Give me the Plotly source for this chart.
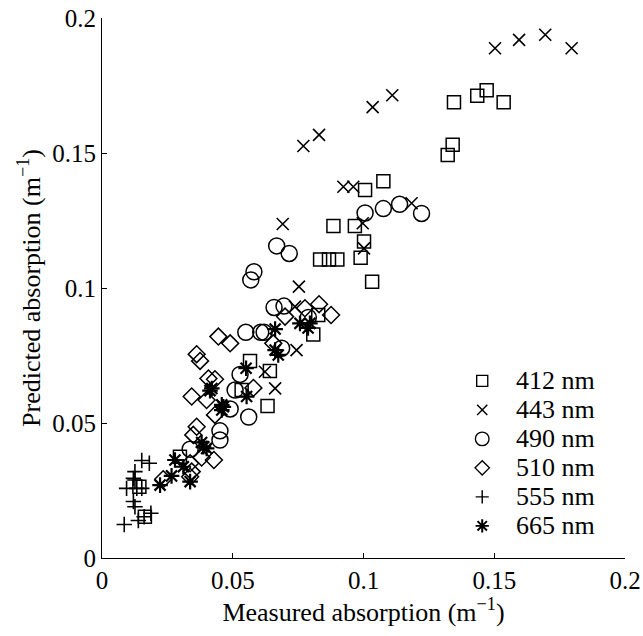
import plotly.graph_objects as go

# Measured vs predicted absorption (m^-1) at six wavelengths
x_412 = [0.1346, 0.1435, 0.1471, 0.1536, 0.1341, 0.1322, 0.1006, 0.1076, 0.0967, 0.0885,
         0.1002, 0.0989, 0.1033, 0.0834, 0.0868, 0.0900, 0.0808, 0.0827, 0.0566, 0.0642,
         0.0534, 0.0633, 0.0298, 0.0143, 0.0164]
y_412 = [0.1688, 0.1712, 0.1732, 0.1688, 0.1531, 0.1493, 0.1363, 0.1395, 0.1230, 0.1230,
         0.1172, 0.1112, 0.1023, 0.1106, 0.1106, 0.1106, 0.0828, 0.0900, 0.0730, 0.0693,
         0.0622, 0.0563, 0.0375, 0.0264, 0.0153]

x_443 = [0.1503, 0.1595, 0.1695, 0.1796, 0.0770, 0.0830, 0.1035, 0.1110, 0.0923, 0.0961,
         0.1184, 0.0997, 0.1002, 0.0691, 0.0753, 0.0738, 0.0744, 0.0623, 0.0662]
y_443 = [0.1888, 0.1919, 0.1938, 0.1888, 0.1526, 0.1567, 0.1670, 0.1714, 0.1375, 0.1375,
         0.1314, 0.1240, 0.1147, 0.1237, 0.1005, 0.0931, 0.0770, 0.0690, 0.0628]

x_490 = [0.1006, 0.1076, 0.1138, 0.1222, 0.0668, 0.0716, 0.0581, 0.0569, 0.0658, 0.0696,
         0.0789, 0.0550, 0.0607, 0.0620, 0.0687, 0.0528, 0.0509, 0.0490, 0.0561, 0.0451,
         0.0451, 0.0337]
y_490 = [0.1278, 0.1294, 0.1310, 0.1276, 0.1156, 0.1128, 0.1060, 0.1030, 0.0928, 0.0933,
         0.0891, 0.0836, 0.0836, 0.0836, 0.0777, 0.0680, 0.0622, 0.0552, 0.0522, 0.0471,
         0.0437, 0.0403]

x_510 = [0.0776, 0.0830, 0.0876, 0.0700, 0.0445, 0.0490, 0.0362, 0.0375, 0.0407, 0.0432,
         0.0579, 0.0343, 0.0400, 0.0432, 0.0362, 0.0349, 0.0428, 0.0381, 0.0337, 0.0343,
         0.0337, 0.0234, 0.0655]
y_510 = [0.0925, 0.0940, 0.0900, 0.0894, 0.0820, 0.0795, 0.0755, 0.0730, 0.0665, 0.0662,
         0.0630, 0.0598, 0.0585, 0.0530, 0.0486, 0.0456, 0.0363, 0.0372, 0.0351, 0.0320,
         0.0301, 0.0292, 0.0795]

x_555 = [0.0152, 0.0181, 0.0126, 0.0120, 0.0094, 0.0133, 0.0152, 0.0126, 0.0120, 0.0126,
         0.0187, 0.0161, 0.0139, 0.0085]
y_555 = [0.0361, 0.0351, 0.0320, 0.0295, 0.0258, 0.0258, 0.0258, 0.0289, 0.0209, 0.0190,
         0.0166, 0.0153, 0.0139, 0.0124]

x_665 = [0.0757, 0.0795, 0.0788, 0.0662, 0.0662, 0.0674, 0.0551, 0.0553, 0.0413, 0.0420,
         0.0464, 0.0458, 0.0458, 0.0381, 0.0400, 0.0388, 0.0279, 0.0311, 0.0337, 0.0266,
         0.0222]
y_665 = [0.0869, 0.0869, 0.0852, 0.0848, 0.0770, 0.0752, 0.0703, 0.0598, 0.0620, 0.0628,
         0.0560, 0.0548, 0.0567, 0.0428, 0.0406, 0.0412, 0.0363, 0.0338, 0.0283, 0.0304,
         0.0270]

labels = ["412 nm", "443 nm", "490 nm", "510 nm", "555 nm", "665 nm"]
x_sets = [x_412, x_443, x_490, x_510, x_555, x_665]
y_sets = [y_412, y_443, y_490, y_510, y_555, y_665]

# marker style per wavelength: (symbol, size, line width)
styles = [
    ("square-open", 13, 1.5),
    ("x-thin-open", 12, 1.6),
    ("circle-open", 16, 1.5),
    ("diamond-open", 13, 1.5),
    ("cross-thin-open", 11, 1.6),
    ("asterisk-open", 13, 2.2),
]

FONT = "Liberation Serif"
FS = 26
TICK_FS = 25

fig = go.Figure()
for name, xs, ys, (sym, size, lw) in zip(labels, x_sets, y_sets, styles):
    fig.add_trace(go.Scatter(
        x=xs, y=ys, mode="markers", name=name, showlegend=False,
        marker=dict(symbol=sym, size=size, color="black",
                    line=dict(color="black", width=lw)),
    ))

# key in the lower right, laid out in plot-area fractions
KEY_SYM_X = 0.727
KEY_TEXT_X = 0.788
KEY_TOP = 0.328
KEY_STEP = 0.0537
for i, (name, (sym, size, lw)) in enumerate(zip(labels, styles)):
    ky = KEY_TOP - i * KEY_STEP
    fig.add_trace(go.Scatter(
        x=[KEY_SYM_X], y=[ky], xaxis="x2", yaxis="y2", mode="markers",
        showlegend=False, hoverinfo="skip",
        marker=dict(symbol=sym, size=size * 0.85, color="black",
                    line=dict(color="black", width=lw * 0.9)),
    ))
    fig.add_annotation(x=KEY_TEXT_X, y=ky, xref="paper", yref="paper",
                       text=name, showarrow=False, xanchor="left", yanchor="middle",
                       font=dict(family=FONT, size=FS, color="black"))

axis_common = dict(
    range=[0, 0.2], tickvals=[0, 0.05, 0.1, 0.15, 0.2],
    ticktext=["0", "0.05", "0.1", "0.15", "0.2"],
    showgrid=False, zeroline=False, showline=True, linecolor="black", linewidth=1.2,
    ticks="inside", ticklen=5, tickcolor="black", tickwidth=1,
    tickfont=dict(family=FONT, size=TICK_FS, color="black"),
    automargin=False,
)

fig.update_layout(
    width=643, height=636,
    margin=dict(l=102, r=18, t=18, b=78),
    paper_bgcolor="white", plot_bgcolor="white",
    font=dict(family=FONT, size=FS, color="black"),
    xaxis=dict(axis_common, title=dict(text="Measured absorption (m<sup>\u22121</sup>)",
                                       font=dict(family=FONT, size=FS), standoff=2)),
    yaxis=dict(axis_common, title=dict(text="Predicted absorption (m<sup>\u22121</sup>)",
                                       font=dict(family=FONT, size=FS), standoff=4)),
    xaxis2=dict(overlaying="x", range=[0, 1], visible=False, fixedrange=True),
    yaxis2=dict(overlaying="y", range=[0, 1], visible=False, fixedrange=True),
    showlegend=False,
)

fig.write_html("out.html")
